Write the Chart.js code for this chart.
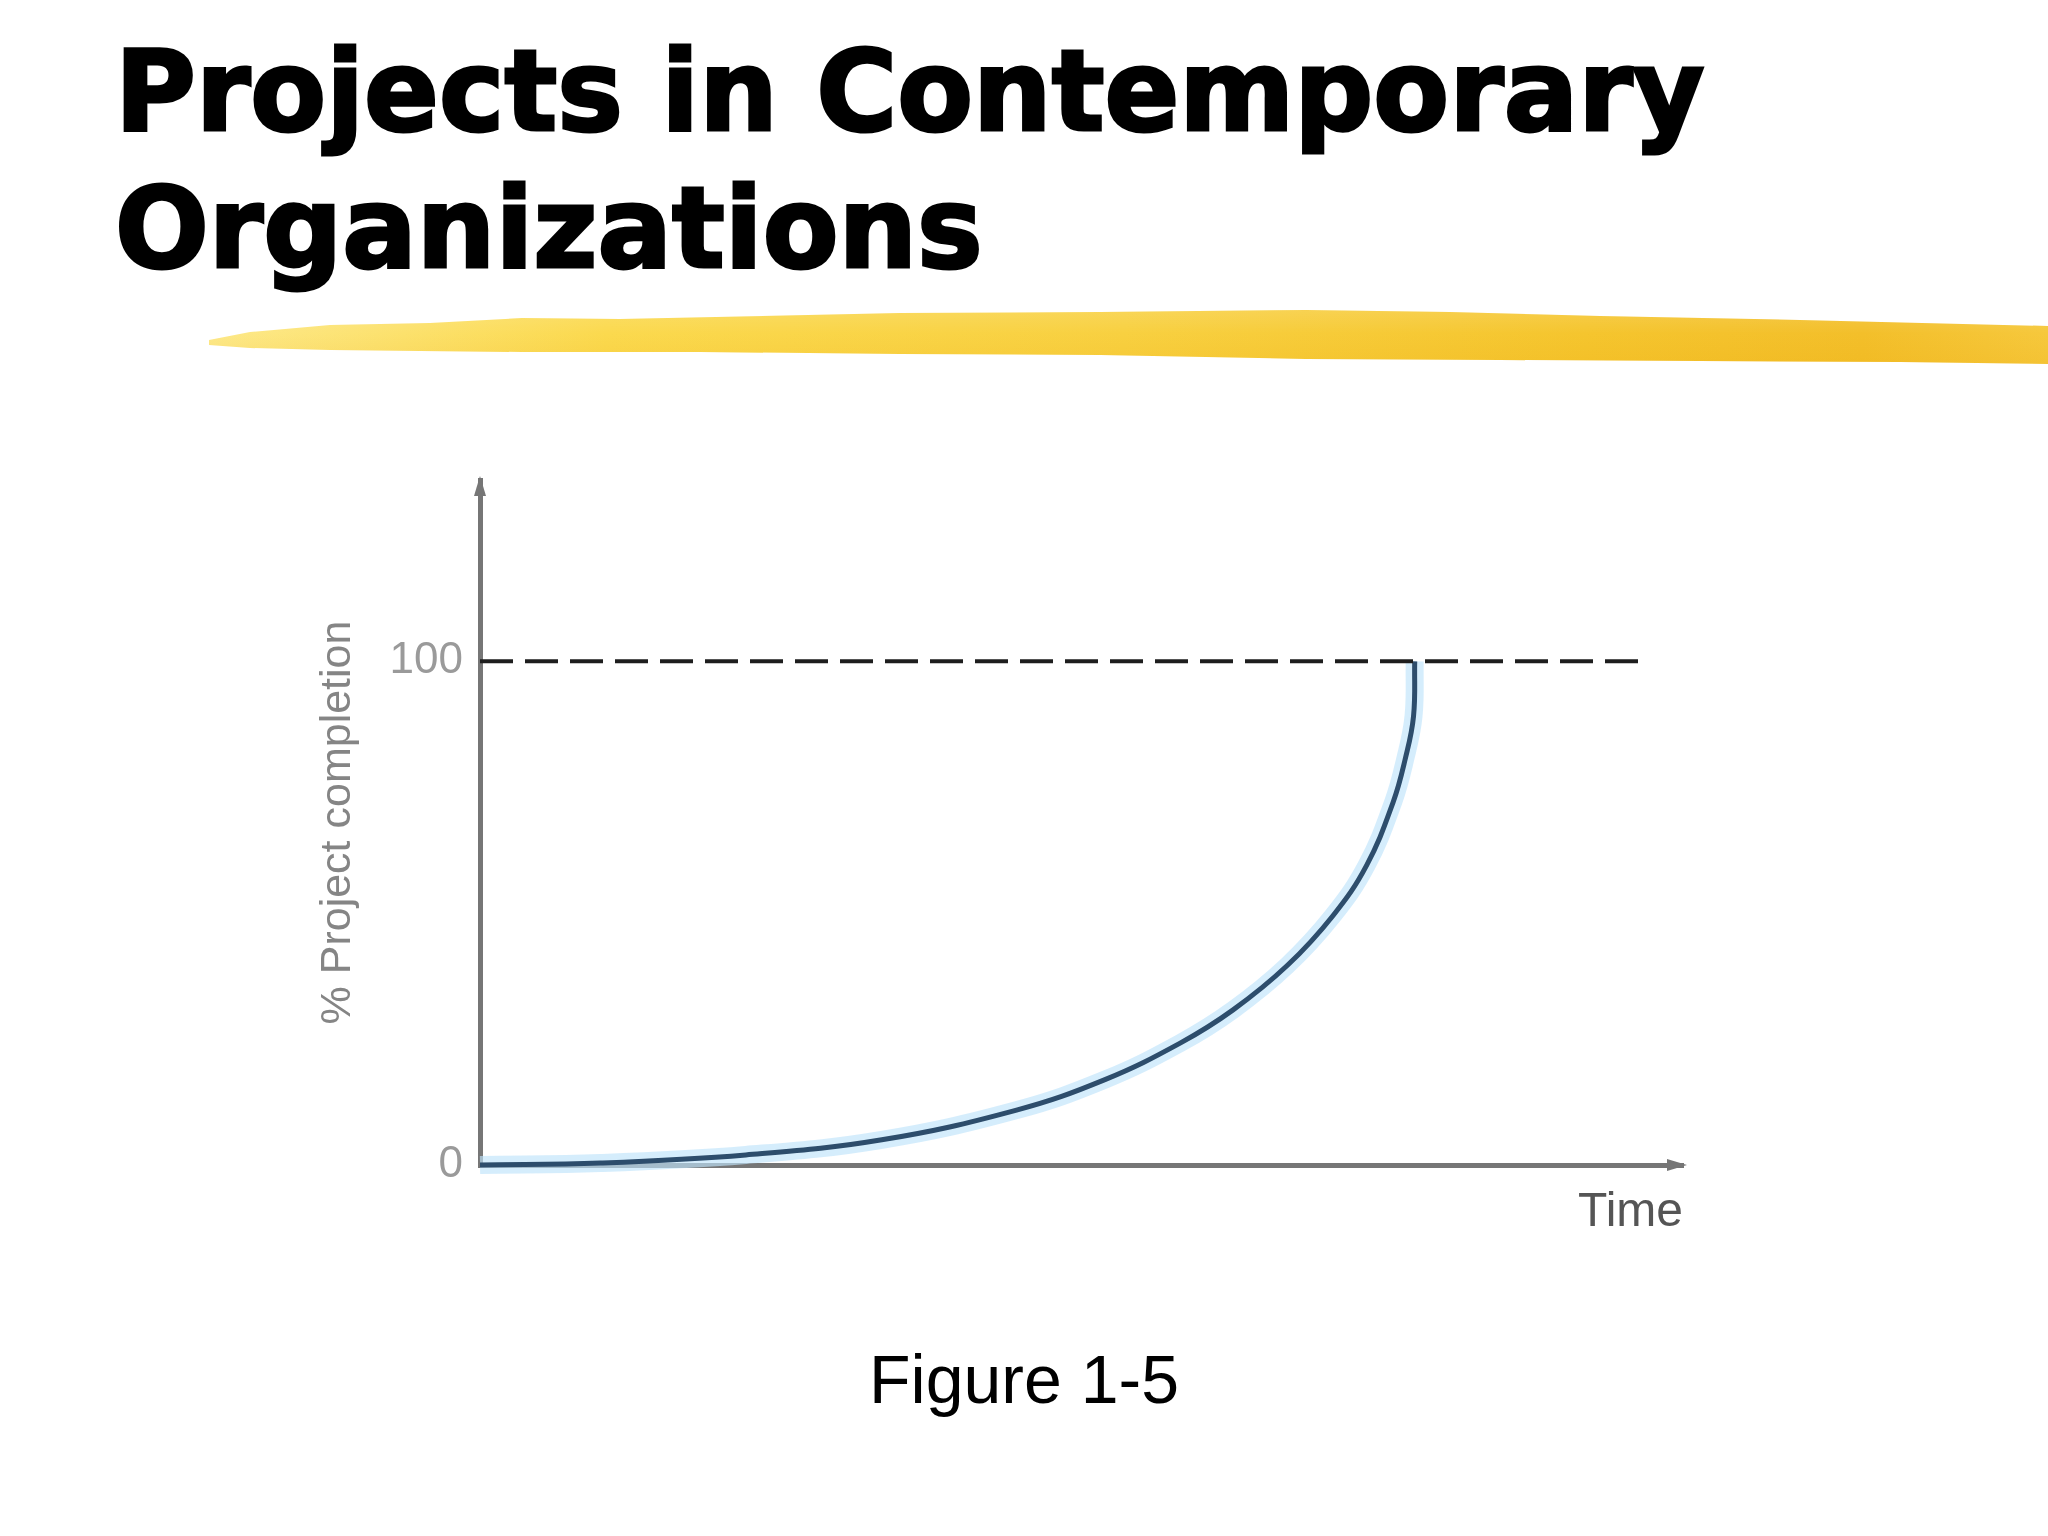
<!DOCTYPE html>
<html>
<head>
<meta charset="utf-8">
<script src="https://cdn.jsdelivr.net/npm/chart.js@4/dist/chart.umd.min.js"></script>
<style>
  html, body { margin: 0; padding: 0; background: #fff; }
  body { width: 2048px; height: 1536px; position: relative; overflow: hidden; }
  .title { position: absolute; left: 115px; font-family: "DejaVu Sans", sans-serif; font-weight: bold;
           font-size: 112px; line-height: 137px; color: #000; white-space: nowrap; transform-origin: 0 0;
           -webkit-text-stroke: 3px #000; }
  #brush { position: absolute; left: 200px; top: 300px; width: 1848px; height: 75px;
           background:
             linear-gradient(to bottom, rgba(255,255,255,0.18) 0%, rgba(255,255,255,0) 45%, rgba(230,160,0,0.18) 100%),
             linear-gradient(to right, #fde98a 0%, #fbd94e 22%, #f8d040 50%, #f5c52e 75%, #f3bf2a 90%, #f6c83c 100%);
           clip-path: polygon(9px 40px, 50px 32px, 130px 25px, 230px 23px, 322px 18px, 420px 19px, 700px 13px, 900px 12px,
                              1106px 10px, 1250px 12px, 1400px 16px, 1600px 20px, 1848px 26px,
                              1848px 64px, 1700px 62px, 1500px 61px, 1300px 60px, 1106px 59px, 900px 55px, 700px 54px,
                              500px 52px, 322px 52px, 130px 50px, 50px 48px, 9px 45px); }
  #wrap { position: absolute; left: 280px; top: 460px; width: 1420px; height: 800px; }
  #caption { position: absolute; left: 0; width: 2048px; top: 1340px; text-align: center;
             font-family: "Liberation Sans", Arial, sans-serif; font-size: 68px; color: #000; }
</style>
</head>
<body>
<div class="title" id="t1" style="top:23px">Projects in Contemporary</div>
<div class="title" id="t2" style="top:160px">Organizations</div>
<div id="brush"></div>
<div id="wrap"><canvas id="chart"></canvas></div>
<div id="caption">Figure 1-5</div>
<script>
// fit the heading to the width it has on the slide
var t1 = document.getElementById('t1'), t2 = document.getElementById('t2');
var sx = 1590 / t1.offsetWidth;
t1.style.transform = 'scaleX(' + sx + ')';
t2.style.transform = 'scaleX(' + sx + ')';

// curve: time (0-100 along the axis), % complete
const timeVals = [0, 10, 22.1, 33.4, 44.6, 52.0, 58.2, 62.6, 67.1, 70.9, 73.7, 75.9, 76.9, 77.6, 77.7];
const completionVals = [0, 0.4, 2.0, 5.0, 10.9, 17.0, 24.2, 30.8, 39.6, 49.5, 59.5, 72.0, 80.5, 89.1, 100];
const targetTime = [0, 97];
const targetVals = [100, 100];
const yTicks = [0, 100];

const axisColor = '#767676';

function pts(xs, ys) {
    return xs.map((x, i) => ({ x: x, y: ys[i] }));
}

const arrows = {
    id: 'arrows',
    afterDraw(chart) {
        const ctx = chart.ctx, a = chart.chartArea;
        ctx.save();
        ctx.fillStyle = axisColor;
        ctx.beginPath();
        ctx.moveTo(a.left, a.top - 4);
        ctx.lineTo(a.left - 6, a.top + 16);
        ctx.lineTo(a.left + 6, a.top + 16);
        ctx.closePath();
        ctx.fill();
        ctx.beginPath();
        ctx.moveTo(a.right + 4, a.bottom);
        ctx.lineTo(a.right - 16, a.bottom - 6);
        ctx.lineTo(a.right - 16, a.bottom + 6);
        ctx.closePath();
        ctx.fill();
        ctx.restore();
    }
};

function noPad(s) {
    s.paddingTop = 0; s.paddingBottom = 0;
    s.paddingLeft = 0; s.paddingRight = 0;
}

new Chart(document.getElementById('chart'), {
    type: 'scatter',
    data: {
        datasets: [{
            data: pts(targetTime, targetVals),
            showLine: true,
            borderColor: '#1e1e1e',
            borderWidth: 4,
            borderDash: [33, 12],
            pointRadius: 0,
            clip: false,
            order: 0
        }, {
            data: pts(timeVals, completionVals),
            showLine: true,
            borderColor: '#2d4d6c',
            borderWidth: 5,
            tension: 0.4,
            pointRadius: 0,
            clip: false,
            order: 1
        }, {
            data: pts(timeVals, completionVals),
            showLine: true,
            borderColor: 'rgba(190,228,250,0.65)',
            borderWidth: 18,
            tension: 0.4,
            pointRadius: 0,
            clip: false,
            order: 2
        }]
    },
    options: {
        responsive: true,
        maintainAspectRatio: false,
        animation: false,
        layout: { padding: { top: 20, right: 17, left: 0, bottom: 0 } },
        plugins: { legend: { display: false }, tooltip: { enabled: false } },
        scales: {
            x: {
                type: 'linear', min: 0, max: 100,
                grid: { display: false },
                border: { display: true, color: axisColor, width: 5 },
                ticks: { display: false },
                title: {
                    display: true, text: 'Time', align: 'end',
                    color: '#555', font: { family: 'Liberation Sans', size: 48 },
                    padding: { top: 0, bottom: 18 }
                },
                afterFit: s => { s.height = 95; noPad(s); }
            },
            y: {
                min: 0, max: 136,
                grid: { display: false },
                border: { display: true, color: axisColor, width: 5 },
                afterBuildTicks: s => { s.ticks = yTicks.map(v => ({ value: v })); },
                ticks: {
                    color: '#9a9a9a', padding: 9,
                    font: { family: 'Liberation Sans', size: 44 }
                },
                title: {
                    display: true, text: '% Project completion',
                    color: '#858585', font: { family: 'Liberation Sans', size: 43 },
                    padding: { top: 32, bottom: 0 }
                },
                afterFit: s => { s.width = 200; noPad(s); }
            }
        }
    },
    plugins: [arrows]
});
</script>
</body>
</html>
